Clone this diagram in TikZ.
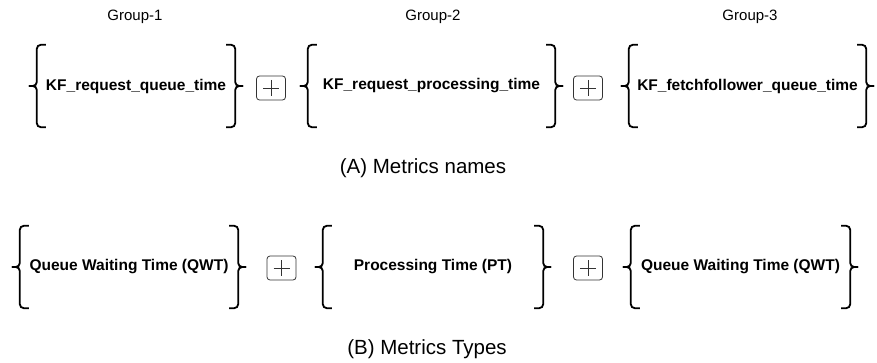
\documentclass[tikz,border=0pt]{standalone}
\usepackage{fontspec}
\setmainfont{Liberation Sans}
\usetikzlibrary{calc}

% braces on both sides of a group node
\newcommand{\curly}[1]{%
  \draw[brace] ($(#1.north west)+(9,0)$) -- (#1.north west) -- (#1.west) -- ++(-8,0);
  \draw[brace] ($(#1.south west)+(9,0)$) -- (#1.south west) -- (#1.west) -- ++(-8,0);
  \draw[brace] ($(#1.north east)+(-9,0)$) -- (#1.north east) -- (#1.east) -- ++(8,0);
  \draw[brace] ($(#1.south east)+(-9,0)$) -- (#1.south east) -- (#1.east) -- ++(8,0);
}
% plus sign inside a plus box
\newcommand{\plussign}[1]{%
  \draw[black!80,line width=.8pt] ($(#1.center)+(-8,0)$) -- ++(16,0)
    ($(#1.center)+(0,-8)$) -- ++(0,16);
}

\begin{document}
\begin{tikzpicture}[x=1pt,y=-1pt,
  group/.style={minimum height=82pt,inner sep=0pt,font=\fontsize{15.5}{18}\selectfont\bfseries},
  plusbox/.style={draw=black!80,rounded corners=3pt,minimum width=29pt,minimum height=24pt,inner sep=0pt,line width=.8pt},
  brace/.style={line width=1.8pt,rounded corners=4pt},
  grouplabel/.style={font=\fontsize{15}{18}\selectfont},
  caption/.style={font=\fontsize{20.5}{24}\selectfont}
]
  \useasboundingbox (0,0) rectangle (877,363);

  % (A) metric names
  \node[grouplabel] (lab1) at (135,17) {Group-1};
  \node[grouplabel] (lab2) at (433,17) {Group-2};
  \node[grouplabel] (lab3) at (750,17) {Group-3};

  \node[group,minimum width=198pt] (name1) at (136,86) {KF\_request\_queue\_time};
  \node[plusbox] (plusA1) at (271,88) {};
  \node[group,minimum width=247pt] (name2) at (431.5,86) {KF\_request\_processing\_time};
  \node[plusbox] (plusA2) at (588,88) {};
  \node[group,minimum width=237pt] (name3) at (747.5,86) {KF\_fetchfollower\_queue\_time};

  \curly{name1} \curly{name2} \curly{name3}
  \plussign{plusA1} \plussign{plusA2}

  \node[caption] (capA) at (423,168) {(A) Metrics names};

  % (B) metric types
  \node[group,minimum width=218pt] (type1) at (129,267) {Queue Waiting Time (QWT)};
  \node[plusbox] (plusB1) at (281.5,268) {};
  \node[group,minimum width=220pt] (type2) at (433,267) {Processing Time (PT)};
  \node[plusbox] (plusB2) at (588,268) {};
  \node[group,minimum width=219pt] (type3) at (740.5,267) {Queue Waiting Time (QWT)};

  \curly{type1} \curly{type2} \curly{type3}
  \plussign{plusB1} \plussign{plusB2}

  \node[caption] (capB) at (427,349) {(B) Metrics Types};
\end{tikzpicture}
\end{document}
